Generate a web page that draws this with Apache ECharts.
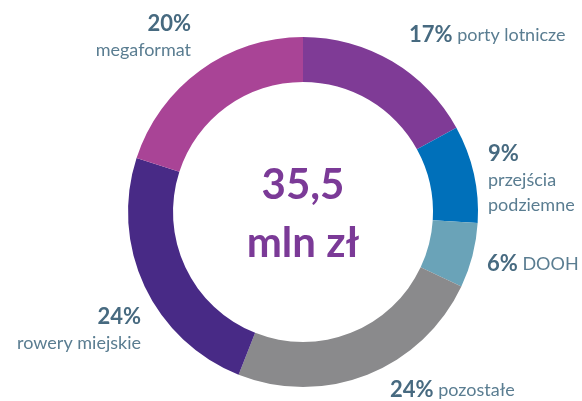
<!DOCTYPE html>
<html>
<head>
<meta charset="utf-8">
<script src="https://cdn.jsdelivr.net/npm/echarts@6/dist/echarts.min.js"></script>
<style>
html,body{margin:0;padding:0;background:#fff;}
#chart{width:582px;height:401px;}
</style>
</head>
<body>
<div id="chart"></div>
<script>
// ---- data ----
const categories = ['porty lotnicze', 'przejścia podziemne', 'DOOH', 'pozostałe', 'rowery miejskie', 'megaformat'];
const shares = [17, 9, 6, 24, 24, 20];
const labelNames = ['porty lotnicze', 'przejścia\npodziemne', 'DOOH', 'pozostałe', 'rowery miejskie', 'megaformat'];
const totalLines = ['35,5', 'mln zł'];

// ---- style / layout ----
const colors = ['#7F3B96', '#0070BA', '#6AA3B8', '#8A8A8C', '#482A86', '#A94496'];
const labelStacked = [false, true, false, false, true, true];
const labelLayoutPos = [
  {x: 409, y: 35, align: 'left'},
  {x: 488, y: 179, align: 'left'},
  {x: 487, y: 264, align: 'left'},
  {x: 390, y: 390, align: 'left'},
  {x: 141, y: 329, align: 'right'},
  {x: 191, y: 36, align: 'right'}
];
const FONT = 'Lato, "Open Sans", sans-serif';

const chart = echarts.init(document.getElementById('chart'), null, {renderer: 'canvas'});

const seriesData = categories.map((c, i) => ({
  name: c,
  value: shares[i],
  itemStyle: {color: colors[i]},
  label: {
    formatter: labelStacked[i]
      ? '{p|' + shares[i] + '%}\n' + labelNames[i].split('\n').map(s => '{n|' + s + '}').join('\n')
      : '{p|' + shares[i] + '%} {n|' + labelNames[i] + '}'
  }
}));

chart.setOption({
  animation: false,
  backgroundColor: '#ffffff',
  series: [{
    type: 'pie',
    center: [303, 212],
    radius: [130, 175],
    startAngle: 90,
    clockwise: true,
    silent: true,
    avoidLabelOverlap: false,
    itemStyle: {borderWidth: 0},
    labelLine: {show: false},
    label: {
      show: true,
      position: 'outside',
      fontFamily: FONT,
      fontSize: 18,
      color: '#5A7D91',
      rich: {
        p: {fontFamily: FONT, fontSize: 22, fontWeight: 'bold', color: '#476A80', lineHeight: 28},
        n: {fontFamily: FONT, fontSize: 18, color: '#5A7D91', lineHeight: 25}
      }
    },
    labelLayout: function (params) {
      const p = labelLayoutPos[params.dataIndex];
      return {x: p.x, y: p.y, align: p.align, verticalAlign: 'middle', hideOverlap: false, moveOverlap: null};
    },
    data: seriesData
  }],
  graphic: [
    {
      type: 'text', silent: true,
      x: 303, y: 214,
      style: {
        text: totalLines.join('\n'),
        x: 0, y: 0,
        align: 'center', verticalAlign: 'middle',
        fontFamily: FONT, fontSize: 42, fontWeight: 'bold',
        lineHeight: 58,
        fill: '#7B3A97'
      }
    }
  ]
});
</script>
</body>
</html>
